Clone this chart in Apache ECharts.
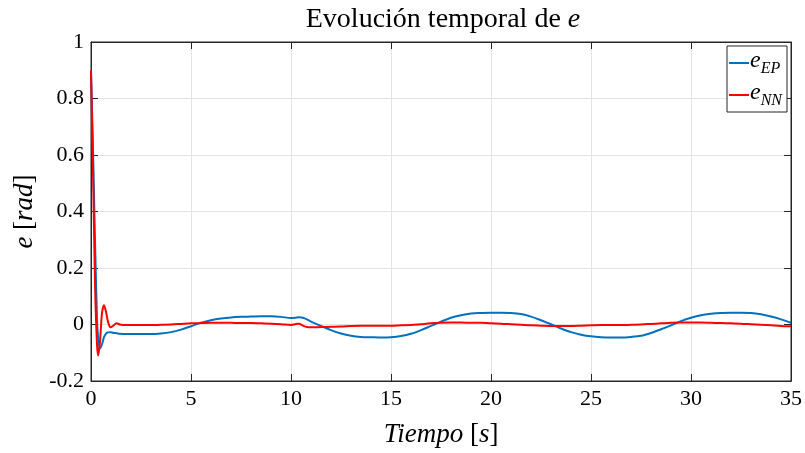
<!DOCTYPE html>
<html>
<head>
<meta charset="utf-8">
<script src="https://cdn.jsdelivr.net/npm/echarts@6/dist/echarts.min.js"></script>
<style>
  html, body { margin: 0; padding: 0; background: #fff; }
  #chart { width: 805px; height: 453px; }
</style>
</head>
<body>
<div id="chart"></div>
<script>
// tiempo [s]
const tiempo = [0, 0.1, 0.2, 0.3, 0.36, 0.45, 0.55, 0.65, 0.75, 0.85, 0.98, 1.1, 1.28, 1.45, 1.7,
  2, 2.5, 3, 3.5, 4, 4.5, 5, 5.5, 6, 6.5, 7, 7.5, 8, 8.5, 9, 9.5, 10, 10.2, 10.4, 10.6, 10.8,
  11, 11.5, 12, 12.5, 13, 13.5, 14, 14.5, 15, 15.5, 16, 16.5, 17, 17.5, 18, 18.5, 19, 19.5,
  20, 20.5, 21, 21.5, 22, 22.5, 23, 23.5, 24, 24.5, 25, 25.5, 26, 26.5, 27, 27.5, 28, 28.5,
  29, 29.5, 30, 30.5, 31, 31.5, 32, 32.5, 33, 33.5, 34, 34.5, 35];

const eEP = [0.90, 0.62, 0.30, 0.02, -0.05, -0.085, -0.07, -0.045, -0.032, -0.028, -0.027, -0.029, -0.031, -0.033, -0.034,
  -0.034, -0.034, -0.034, -0.032, -0.027, -0.018, -0.006, 0.006, 0.015, 0.021, 0.025, 0.027, 0.028, 0.029, 0.029, 0.027, 0.023, 0.024, 0.026, 0.024, 0.018,
  0.010, -0.005, -0.020, -0.032, -0.040, -0.044, -0.045, -0.046, -0.045, -0.041, -0.033, -0.020, -0.005, 0.010, 0.024, 0.033, 0.039, 0.041,
  0.042, 0.042, 0.041, 0.037, 0.028, 0.015, 0.001, -0.014, -0.027, -0.036, -0.042, -0.045, -0.046, -0.046, -0.044, -0.040, -0.030, -0.017,
  -0.003, 0.012, 0.024, 0.033, 0.038, 0.041, 0.042, 0.042, 0.041, 0.036, 0.028, 0.018, 0.006];

const eNN = [0.90, 0.55, 0.15, -0.07, -0.11, -0.06, 0.04, 0.068, 0.045, 0.01, -0.01, -0.005, 0.004, 0.0, -0.002,
  -0.002, -0.002, -0.002, -0.001, 0.0, 0.002, 0.004, 0.005, 0.006, 0.006, 0.006, 0.005, 0.005, 0.004, 0.003, 0.001, -0.002, 0.001, 0.003, -0.004, -0.009,
  -0.010, -0.009, -0.008, -0.007, -0.005, -0.004, -0.004, -0.004, -0.004, -0.003, -0.002, 0.001, 0.004, 0.006, 0.007, 0.007, 0.006, 0.006,
  0.004, 0.003, 0.001, -0.001, -0.003, -0.004, -0.005, -0.005, -0.005, -0.004, -0.003, -0.002, -0.002, -0.002, -0.001, 0.0, 0.002, 0.004,
  0.006, 0.007, 0.007, 0.007, 0.006, 0.005, 0.004, 0.003, 0.001, -0.001, -0.003, -0.005, -0.006];

const xTicks = [0, 5, 10, 15, 20, 25, 30, 35];
const yTicks = [-0.2, 0, 0.2, 0.4, 0.6, 0.8, 1];

const serif = '"Liberation Serif", "DejaVu Serif", serif';
const axisColor = '#262626';

const chart = echarts.init(document.getElementById('chart'), null, { renderer: 'canvas' });

function pairs(xs, ys) {
  return xs.map((x, i) => [x, ys[i]]);
}

const legendNames = { eEP: '{e|e}{s|EP}', eNN: '{e|e}{s|NN}' };

chart.setOption({
  animation: false,
  backgroundColor: '#fff',
  title: {
    text: 'Evolución temporal de {i|e}',
    left: 438,
    textAlign: 'center',
    top: 1,
    textStyle: {
      fontFamily: serif,
      fontSize: 28,
      fontWeight: 'normal',
      color: '#000',
      rich: {
        i: { fontFamily: serif, fontSize: 28, fontStyle: 'italic', color: '#000' }
      }
    }
  },
  grid: {
    left: 91, right: 13, top: 42, bottom: 66,
    show: true, borderColor: axisColor, borderWidth: 1
  },
  legend: {
    right: 18,
    top: 46,
    orient: 'vertical',
    backgroundColor: '#fff',
    borderColor: axisColor,
    borderWidth: 1,
    borderRadius: 0,
    padding: [3, 5, 3, 2],
    itemGap: 4,
    itemWidth: 20,
    itemHeight: 2,
    icon: 'rect',
    formatter: name => legendNames[name],
    textStyle: {
      fontFamily: serif,
      color: '#000',
      padding: [0, 0, 0, -4],
      rich: {
        e: { fontFamily: serif, fontSize: 24, fontStyle: 'italic', color: '#000', padding: [0, 0, 4, 0] },
        s: { fontFamily: serif, fontSize: 16, fontStyle: 'italic', color: '#000', verticalAlign: 'bottom', padding: [8, 0, 0, 0] }
      }
    },
    data: ['eEP', 'eNN']
  },
  xAxis: [{
    type: 'value',
    min: 0, max: 35, interval: 5,
    name: '{i|Tiempo} [{i|s}]',
    nameLocation: 'middle',
    nameGap: 40,
    nameTextStyle: {
      fontFamily: serif, fontSize: 27, color: '#000',
      rich: { i: { fontFamily: serif, fontSize: 27, fontStyle: 'italic', color: '#000' } }
    },
    axisLine: { show: true, onZero: false, lineStyle: { color: axisColor, width: 1 } },
    axisTick: { show: true, inside: true, length: 7, lineStyle: { color: axisColor } },
    axisLabel: {
      fontFamily: serif, fontSize: 22, color: '#000', margin: 7,
      formatter: v => xTicks.includes(v) ? String(v) : ''
    },
    splitLine: { show: true, lineStyle: { color: '#e3e3e3', width: 1 } }
  }, {
    type: 'value',
    position: 'top',
    min: 0, max: 35, interval: 5,
    axisLine: { show: true, onZero: false, lineStyle: { color: axisColor, width: 1 } },
    axisTick: { show: true, inside: true, length: 7, lineStyle: { color: axisColor } },
    axisLabel: { show: false },
    splitLine: { show: false }
  }],
  yAxis: [{
    type: 'value',
    min: -0.2, max: 1, interval: 0.2,
    name: '{i|e} [{i|rad}]',
    nameLocation: 'middle',
    nameGap: 52,
    nameRotate: 90,
    nameTextStyle: {
      fontFamily: serif, fontSize: 27, color: '#000',
      rich: { i: { fontFamily: serif, fontSize: 27, fontStyle: 'italic', color: '#000' } }
    },
    axisLine: { show: true, onZero: false, lineStyle: { color: axisColor, width: 1 } },
    axisTick: { show: true, inside: true, length: 7, lineStyle: { color: axisColor } },
    axisLabel: {
      fontFamily: serif, fontSize: 22, color: '#000', margin: 7,
      formatter: v => {
        const r = Math.round(v * 10) / 10;
        return yTicks.some(t => Math.abs(t - r) < 1e-9) ? String(r) : '';
      }
    },
    splitLine: { show: true, lineStyle: { color: '#e3e3e3', width: 1 } }
  }, {
    type: 'value',
    position: 'right',
    min: -0.2, max: 1, interval: 0.2,
    axisLine: { show: true, onZero: false, lineStyle: { color: axisColor, width: 1 } },
    axisTick: { show: true, inside: true, length: 7, lineStyle: { color: axisColor } },
    axisLabel: { show: false },
    splitLine: { show: false }
  }],
  series: [{
    name: 'eEP',
    type: 'line',
    data: pairs(tiempo, eEP),
    showSymbol: false,
    smooth: 0.3,
    lineStyle: { color: '#0072BD', width: 2 },
    itemStyle: { color: '#0072BD' },
    z: 2
  }, {
    name: 'eNN',
    type: 'line',
    data: pairs(tiempo, eNN),
    showSymbol: false,
    smooth: 0.3,
    lineStyle: { color: '#FF0000', width: 2 },
    itemStyle: { color: '#FF0000' },
    z: 3
  }]
});
</script>
</body>
</html>
